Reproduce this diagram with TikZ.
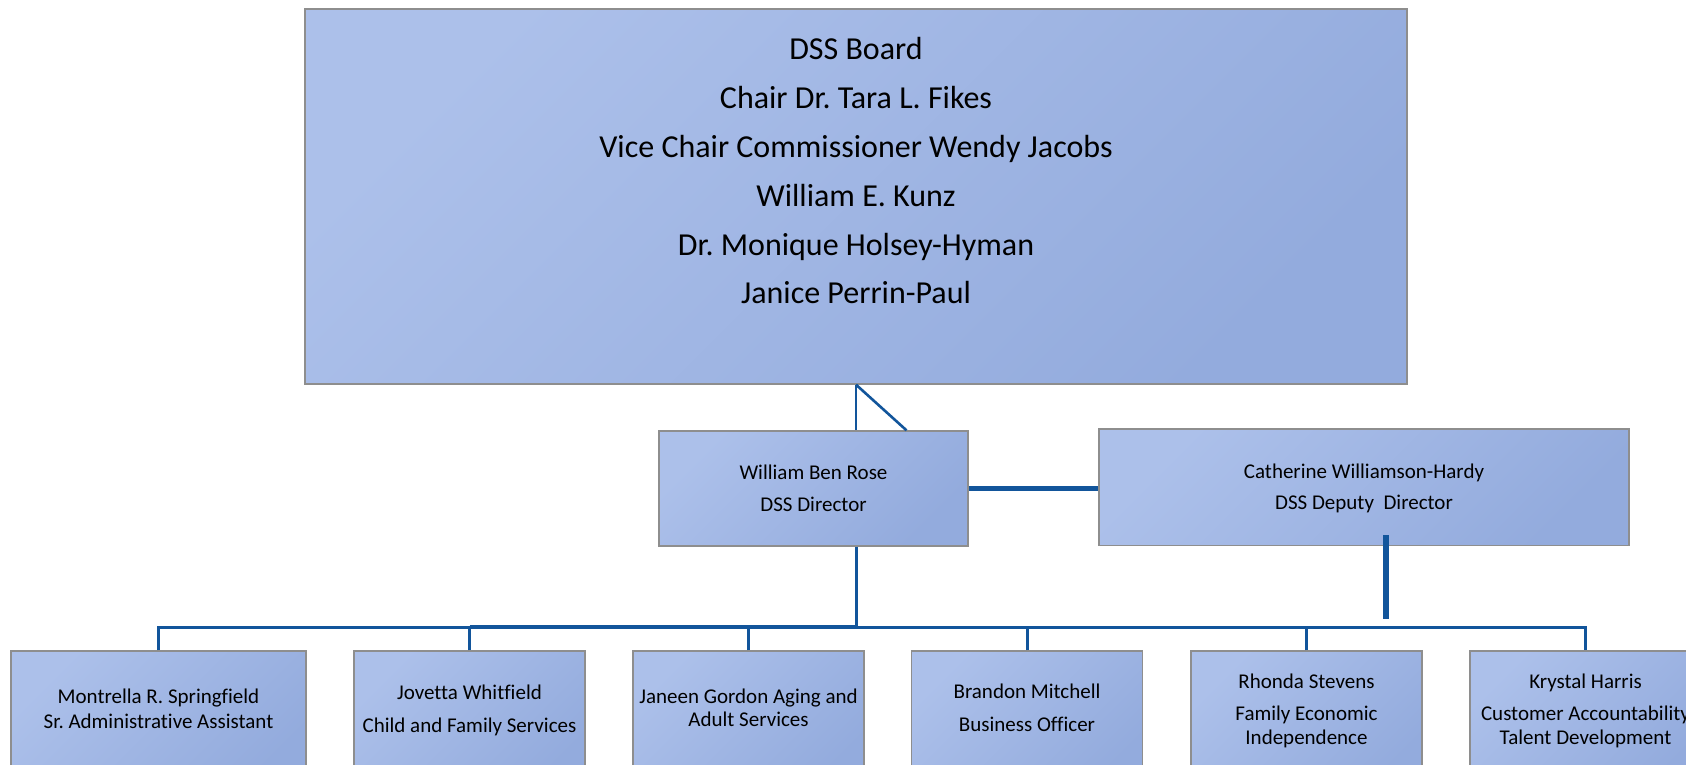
\documentclass[tikz,border=0pt]{standalone}
\usepackage{fontspec}
\setmainfont{Carlito}[Ligatures=NoCommon]
\definecolor{lineblue}{HTML}{12559B}
\definecolor{boxlight}{HTML}{ACC0EA}
\definecolor{boxdark}{HTML}{93ABDD}
\definecolor{boxedge}{HTML}{8E8E8E}
\begin{document}
\frenchspacing
\begin{tikzpicture}[x=1pt,y=-1pt,
  box/.style={rectangle, draw=boxedge, line width=1.3pt, inner sep=0pt,
    top color=boxlight, bottom color=boxdark, shading angle=45},
  bigtxt/.style={inner sep=0pt, align=center, font=\fontsize{32}{48.8}\selectfont},
  smalltxt/.style={inner sep=0pt, align=center, font=\fontsize{21}{24.5}\selectfont},
  conn/.style={draw=lineblue, line width=2.6pt},
  busline/.style={draw=lineblue, line width=2.4pt, line join=miter},
  dropline/.style={draw=lineblue, line width=3pt},
  thickline/.style={draw=lineblue, line width=5.5pt}]
\useasboundingbox (0,0) rectangle (1686,765);
\clip (0,0) rectangle (1686,765);
% boxes
\node[box, minimum width=1102pt, minimum height=375pt] (board) at (856,196.5) {};
\node[box, minimum width=309pt, minimum height=115pt] (dir) at (813.5,488.5) {};
\node[box, minimum width=530pt, minimum height=116.5pt] (dep) at (1364,487.2) {};
\node[box, minimum width=295pt, minimum height=139pt] (b1) at (158.5,720.5) {};
\node[box, minimum width=231pt, minimum height=139pt] (b2) at (469.5,720.5) {};
\node[box, minimum width=231pt, minimum height=139pt] (b3) at (748.5,720.5) {};
\node[box, minimum width=231pt, minimum height=139pt] (b4) at (1027,720.5) {};
\node[box, minimum width=231pt, minimum height=139pt] (b5) at (1306.5,720.5) {};
\node[box, minimum width=231pt, minimum height=139pt] (b6) at (1585.5,720.5) {};
% texts
\node[bigtxt] (boardtxt) at (856,171) {DSS Board\\Chair Dr. Tara L. Fikes\\Vice Chair Commissioner Wendy Jacobs\\William E. Kunz\\Dr. Monique Holsey-Hyman\\Janice Perrin-Paul};
\node[smalltxt, font=\fontsize{21}{32}\selectfont] (dirtxt) at (813.5,487.8) {William Ben Rose\\DSS Director};
\node[smalltxt, font=\fontsize{21}{31.5}\selectfont] (deptxt) at (1364,488.5) {Catherine Williamson-Hardy\\DSS Deputy\ \ Director};
\node[smalltxt] (t1) at (158.5,709) {Montrella R. Springfield\\Sr. Administrative Assistant};
\node[smalltxt] (t2) at (469.5,710.3) {Jovetta Whitfield\\[9pt]Child and Family Services};
\node[smalltxt] (t3) at (748.5,707.6) {Janeen Gordon Aging and\\[-2pt]Adult Services};
\node[smalltxt] (t4) at (1027,708) {Brandon Mitchell\\[9pt]Business Officer};
\node[smalltxt] (t5) at (1306.5,710.6) {Rhonda Stevens\\[8pt]Family Economic\\[-1pt]Independence};
\node[smalltxt] (t6) at (1585.5,710.6) {Krystal Harris\\[8pt]Customer Accountability\\[-1pt]Talent Development};
% connector coordinates
\coordinate (dirtop) at ([xshift=42.5pt]dir.north);
\coordinate (dirdiag) at ([xshift=93pt]dir.north);
\coordinate (dirbot) at ([xshift=42.5pt]dir.south);
\coordinate (busy) at (0,627.3);
\coordinate (depstart) at (1386,535);
\coordinate (depend) at (1386,619);
% board to director
\draw[conn] (dirtop |- board.south) -- (dirtop);
\draw[conn] (dirtop |- board.south) -- (dirdiag);
% director to deputy
\draw[thickline] (dir.east) -- (dir.east -| dep.west);
% bus
\draw[busline] (b1.north) -- (b1.north |- busy) -- (b6.north |- busy) -- (b6.north);
\draw[draw=lineblue, line width=4.2pt] (b2.north |- 0,626.8) -- (dirbot |- 0,626.8);
\draw[dropline] (dirbot) -- (dirbot |- busy);
\foreach \b in {b2,b3,b4,b5} {\draw[dropline] (\b.north) -- (\b.north |- busy);}
\draw[draw=lineblue, line width=6.5pt] (depstart) -- (depend);
\end{tikzpicture}
\end{document}
